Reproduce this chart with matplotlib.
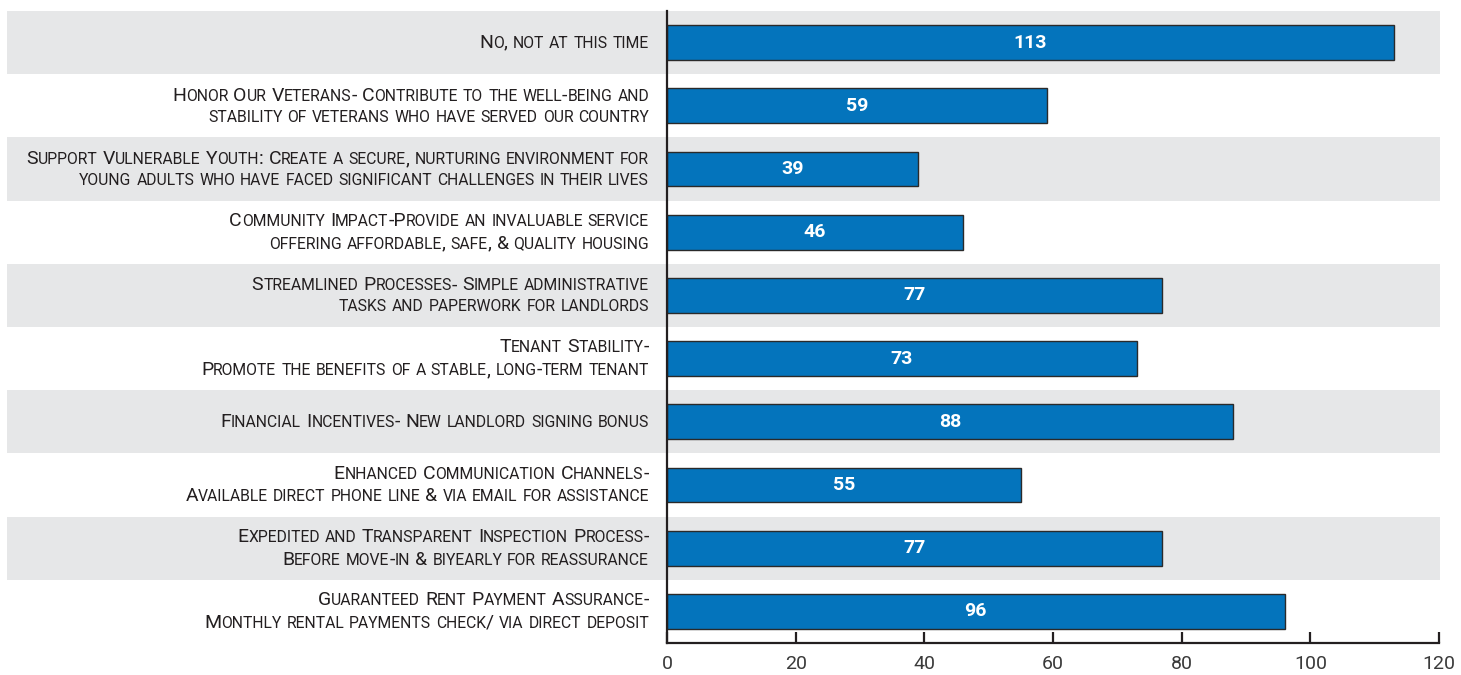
import matplotlib
matplotlib.use("Agg")
import matplotlib.pyplot as plt
from matplotlib import font_manager
from matplotlib.offsetbox import TextArea, HPacker, VPacker, AnnotationBbox
from matplotlib.patches import Rectangle
import matplotlib.transforms as mtransforms

categories = [
    "No, not at this time",
    "Honor Our Veterans- Contribute to the well-being and\nstability of veterans who have served our country",
    "Support Vulnerable Youth: Create a secure, nurturing environment for\nyoung adults who have faced significant challenges in their lives",
    "Community Impact-Provide an invaluable service\noffering affordable, safe, & quality housing",
    "Streamlined Processes- Simple administrative\ntasks and paperwork for landlords",
    "Tenant Stability-\nPromote the benefits of a stable, long-term tenant",
    "Financial Incentives- New landlord signing bonus",
    "Enhanced Communication Channels-\nAvailable direct phone line & via email for assistance",
    "Expedited and Transparent Inspection Process-\nBefore move-in & biyearly for reassurance",
    "Guaranteed Rent Payment Assurance-\nMonthly rental payments check/ via direct deposit",
]
values = [113, 59, 39, 46, 77, 73, 88, 55, 77, 96]
xticks = [0, 20, 40, 60, 80, 100, 120]

names = {f.name for f in font_manager.fontManager.ttflist}
FONT = "Liberation Sans Narrow" if "Liberation Sans Narrow" in names else "Roboto"

BAR = "#0474BC"
BAND = "#E6E7E8"
TXT = "#231F20"

W, H = 1461, 675
fig = plt.figure(figsize=(W / 100, H / 100), dpi=100)
ax = fig.add_axes([667 / W, 1 - 643 / H, (1439 - 667) / W, (643 - 11) / H])

n = len(categories)
ypos = list(range(n))
ax.set_xlim(0, 120)
ax.set_ylim(n - 0.5, -0.5)

# alternating bands spanning the label area
btrans = mtransforms.blended_transform_factory(fig.transFigure, ax.transData)
for i in ypos:
    if i % 2 == 0:
        r = Rectangle((7 / W, i - 0.5), (1440 - 7) / W, 1.0, transform=btrans,
                      facecolor=BAND, edgecolor="none", clip_on=False, zorder=0)
        fig.add_artist(r)

ax.set_facecolor("none")
ax.patch.set_alpha(0)
bars = ax.barh(ypos, values, height=0.55, color=BAR, edgecolor="#2a2a2a",
               linewidth=1.0, zorder=3)
for i, v in zip(ypos, values):
    ax.text(v / 2, i, str(v), ha="center", va="center", color="white",
            fontsize=14, fontweight="bold", family=FONT, zorder=4)

for s in ["top", "right"]:
    ax.spines[s].set_visible(False)
for s in ["left", "bottom"]:
    ax.spines[s].set_color("#231F20")
    ax.spines[s].set_linewidth(1.6)
    ax.spines[s].set_zorder(5)

ax.set_xticks(xticks)
ax.set_xticklabels([str(t) for t in xticks], family=FONT, fontsize=14,
                   color="#3a3a3a")
ax.tick_params(axis="x", direction="in", length=8, width=1.6, color="#231F20", pad=8.5)
ax.set_yticks([])

BIG = 14.0
SMALL = 11.3


def runs_of(word):
    out = []
    cur = ""
    cur_small = None
    for ch in word:
        sm = ch.islower()
        if cur and sm != cur_small:
            out.append((cur, cur_small))
            cur = ""
        cur += ch
        cur_small = sm
    if cur:
        out.append((cur, cur_small))
    return out


def line_box(line):
    words = []
    for w in line.split(" "):
        parts = []
        for txt, sm in runs_of(w):
            parts.append(TextArea(txt.upper() if sm else txt,
                                  textprops=dict(fontsize=SMALL if sm else BIG,
                                                 family=FONT, color=TXT)))
        words.append(HPacker(children=parts, align="baseline", pad=0, sep=0))
    return HPacker(children=words, align="baseline", pad=0, sep=3.6)


ytrans = ax.get_yaxis_transform()
for i, lab in zip(ypos, categories):
    lines = [line_box(l) for l in lab.split("\n")]
    box = VPacker(children=lines, align="right", pad=0, sep=3.5)
    ab = AnnotationBbox(box, (-18 / 772, i), xycoords=ytrans, box_alignment=(1, 0.5),
                        frameon=False, pad=0, annotation_clip=False)
    ax.add_artist(ab)

fig.savefig("out.png", dpi=100)
